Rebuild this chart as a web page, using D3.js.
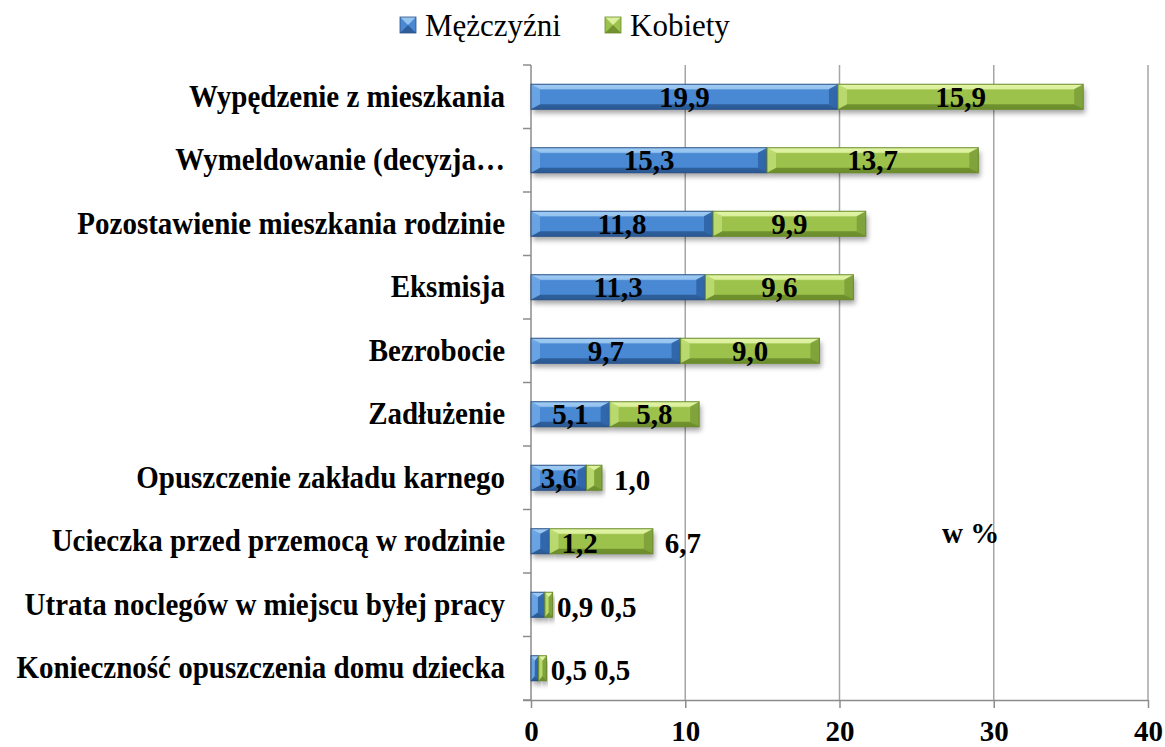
<!DOCTYPE html>
<html><head><meta charset="utf-8">
<script src="https://cdn.jsdelivr.net/npm/d3@7"></script>
<style>body{margin:0;background:#fff}svg{display:block}text{font-family:"Liberation Serif","Times New Roman",serif}</style>
</head><body><svg id="c" width="1165" height="747"></svg>
<script>
const categories = ["Wypędzenie z mieszkania","Wymeldowanie (decyzja…","Pozostawienie mieszkania rodzinie","Eksmisja","Bezrobocie","Zadłużenie","Opuszczenie zakładu karnego","Ucieczka przed przemocą w rodzinie","Utrata noclegów w miejscu byłej pracy","Konieczność opuszczenia domu dziecka"];
const men = [19.9,15.3,11.8,11.3,9.7,5.1,3.6,1.2,0.9,0.5];
const women = [15.9,13.7,9.9,9.6,9.0,5.8,1.0,6.7,0.5,0.5];
const seriesNames = ["Mężczyźni","Kobiety"];
const xTicks = [0,10,20,30,40];
const unitLabel = "w %";

const svg = d3.select("#c");
const m={left:531,right:1148,top:65,bottom:700};
const x=d3.scaleLinear().domain([0,40]).range([m.left,m.right]);
const y=d3.scaleBand().domain(categories).range([m.top,m.bottom]).paddingInner(0).paddingOuter(0);
const barH=25;

const pal=[
 {top:"#9fcbf3",mid:"#4a88d2",bot:"#2b5b96",lb:"#6ea6e4",rb:"#2f64a6",stroke:"#2a5286"},
 {top:"#e2f5a6",mid:"#9dc24c",bot:"#6d8d2c",lb:"#bcdc72",rb:"#7da03a",stroke:"#6a8a2c"}
];
const defs=svg.append("defs");
pal.forEach((p,i)=>{
  const g=defs.append("linearGradient").attr("id","g"+i).attr("x1",0).attr("y1",0).attr("x2",0).attr("y2",1);
  g.append("stop").attr("offset","0%").attr("stop-color",p.top);
  g.append("stop").attr("offset","25%").attr("stop-color",p.mid);
  g.append("stop").attr("offset","80%").attr("stop-color",p.mid);
  g.append("stop").attr("offset","100%").attr("stop-color",p.bot);
});
const f=defs.append("filter").attr("id","sh").attr("x","-10%").attr("y","-30%").attr("width","130%").attr("height","190%");
f.append("feDropShadow").attr("dx",2).attr("dy",4).attr("stdDeviation",2.5).attr("flood-color","#000").attr("flood-opacity",0.35);

// grid
svg.append("g").selectAll("line").data(xTicks.slice(1)).join("line")
 .attr("x1",d=>x(d)).attr("x2",d=>x(d)).attr("y1",m.top).attr("y2",m.bottom)
 .attr("stroke","#a6a6a6").attr("stroke-width",1.5);

// x axis
const xAxis=svg.append("g").attr("transform",`translate(0,${m.bottom})`)
 .call(d3.axisBottom(x).tickValues(xTicks).tickSize(8).tickSizeOuter(0).tickFormat(d3.format("d")));
xAxis.select(".domain").attr("stroke","#8c8c8c").attr("stroke-width",1.5).attr("d",`M${m.left-8},0.5H${m.right}`);
xAxis.selectAll(".tick line").attr("stroke","#8c8c8c").attr("stroke-width",1.5);
xAxis.selectAll(".tick text").attr("font-size",29).attr("font-weight","bold").attr("fill","#000")
 .attr("font-family","Liberation Serif, serif").attr("y",0).attr("dy",0).attr("transform","translate(0,41)");

// y axis
const bounds=d3.range(categories.length+1).map(i=>m.top+i*y.step());
svg.append("line").attr("x1",m.left).attr("x2",m.left).attr("y1",m.top).attr("y2",m.bottom).attr("stroke","#8c8c8c").attr("stroke-width",1.5);
svg.selectAll("line.ytick").data(bounds).join("line").attr("class","ytick")
 .attr("x1",m.left-8).attr("x2",m.left).attr("y1",d=>d).attr("y2",d=>d).attr("stroke","#8c8c8c").attr("stroke-width",1.5);
svg.selectAll("text.cat").data(categories).join("text").attr("class","cat")
 .attr("transform",d=>`translate(505,${y(d)+y.bandwidth()/2+10}) scale(1,1.12)`)
 .attr("text-anchor","end").attr("font-size",29).attr("font-weight","bold").text(d=>d);

// bars
function bevelBar(g,x0,x1,yc,p,i){
  const y0=yc-barH/2,y1=yc+barH/2,w=x1-x0;
  const bx=Math.min(9,w/2), by=5;
  const bg=g.append("g").attr("filter","url(#sh)");
  bg.append("rect").attr("x",x0).attr("y",y0).attr("width",w).attr("height",barH).attr("fill",`url(#g${i})`);
  const ix0=x0+bx,ix1=x1-bx,iy0=y0+by,iy1=y1-by;
  const poly=(pts,fill,op)=>g.append("polygon").attr("points",pts.map(q=>q.join(",")).join(" ")).attr("fill",fill).attr("opacity",op);
  poly([[x0,y0],[x1,y0],[ix1,iy0],[ix0,iy0]],p.top,0.85);
  poly([[x0,y1],[x1,y1],[ix1,iy1],[ix0,iy1]],p.bot,0.9);
  poly([[x0,y0],[ix0,iy0],[ix0,iy1],[x0,y1]],p.lb,0.9);
  poly([[x1,y0],[ix1,iy0],[ix1,iy1],[x1,y1]],p.rb,0.9);
  g.append("rect").attr("x",x0).attr("y",y0).attr("width",w).attr("height",barH).attr("fill","none").attr("stroke",p.stroke).attr("stroke-width",1);
}
const barsG=svg.append("g");
const labG=svg.append("g");
categories.forEach((c,r)=>{
  const vals=[men[r],women[r]];
  const yc=y(c)+y.bandwidth()/2;
  let acc=0;
  const segs=vals.map((v,i)=>{const s={x0:x(acc),x1:x(acc+v),v,i};acc+=v;return s;});
  segs.forEach(s=>bevelBar(barsG,s.x0,s.x1,yc,pal[s.i],s.i));
  const rowEnd=x(acc);
  let prevEnd=-Infinity;
  segs.forEach(s=>{
    const txt=d3.format(".1f")(s.v).replace(".",",");
    const t=labG.append("text").attr("font-size",29).attr("font-weight","bold").text(txt);
    const tw=t.node().getComputedTextLength();
    const cx=(s.x0+s.x1)/2;
    const fits=tw+4<(s.x1-s.x0) && cx-tw/2>prevEnd+2;
    let sx, dy=10;
    if(fits){sx=cx-tw/2;}
    else{
      const endRef = s.i===0 ? s.x1 : rowEnd;
      sx=Math.max(endRef+12,prevEnd+7);
      dy=12;
    }
    t.attr("x",sx).attr("y",yc+dy);
    prevEnd=sx+tw;
  });
});

// unit label
svg.append("text").attr("x",x(26.65)).attr("y",543).attr("font-size",29).attr("font-weight","bold").text(unitLabel);

// legend
const lg=svg.append("g");
const legX=[400,605];
seriesNames.forEach((n,i)=>{
  const gx=legX[i];
  const p=pal[i];
  const s=16,x0=gx,y0=17,x1=gx+s,y1=y0+s;
  lg.append("rect").attr("x",x0).attr("y",y0).attr("width",s).attr("height",s).attr("fill",p.mid);
  lg.append("polygon").attr("points",`${x0},${y0} ${x1},${y0} ${(x0+x1)/2},${(y0+y1)/2}`).attr("fill",p.top).attr("opacity",0.9);
  lg.append("polygon").attr("points",`${x0},${y1} ${x1},${y1} ${(x0+x1)/2},${(y0+y1)/2}`).attr("fill",p.bot).attr("opacity",0.9);
  lg.append("rect").attr("x",x0).attr("y",y0).attr("width",s).attr("height",s).attr("fill","none").attr("stroke",p.stroke).attr("stroke-width",0.8);
  lg.append("text").attr("x",x1+9).attr("y",36).attr("font-size",31).text(n);
});
</script></body></html>
